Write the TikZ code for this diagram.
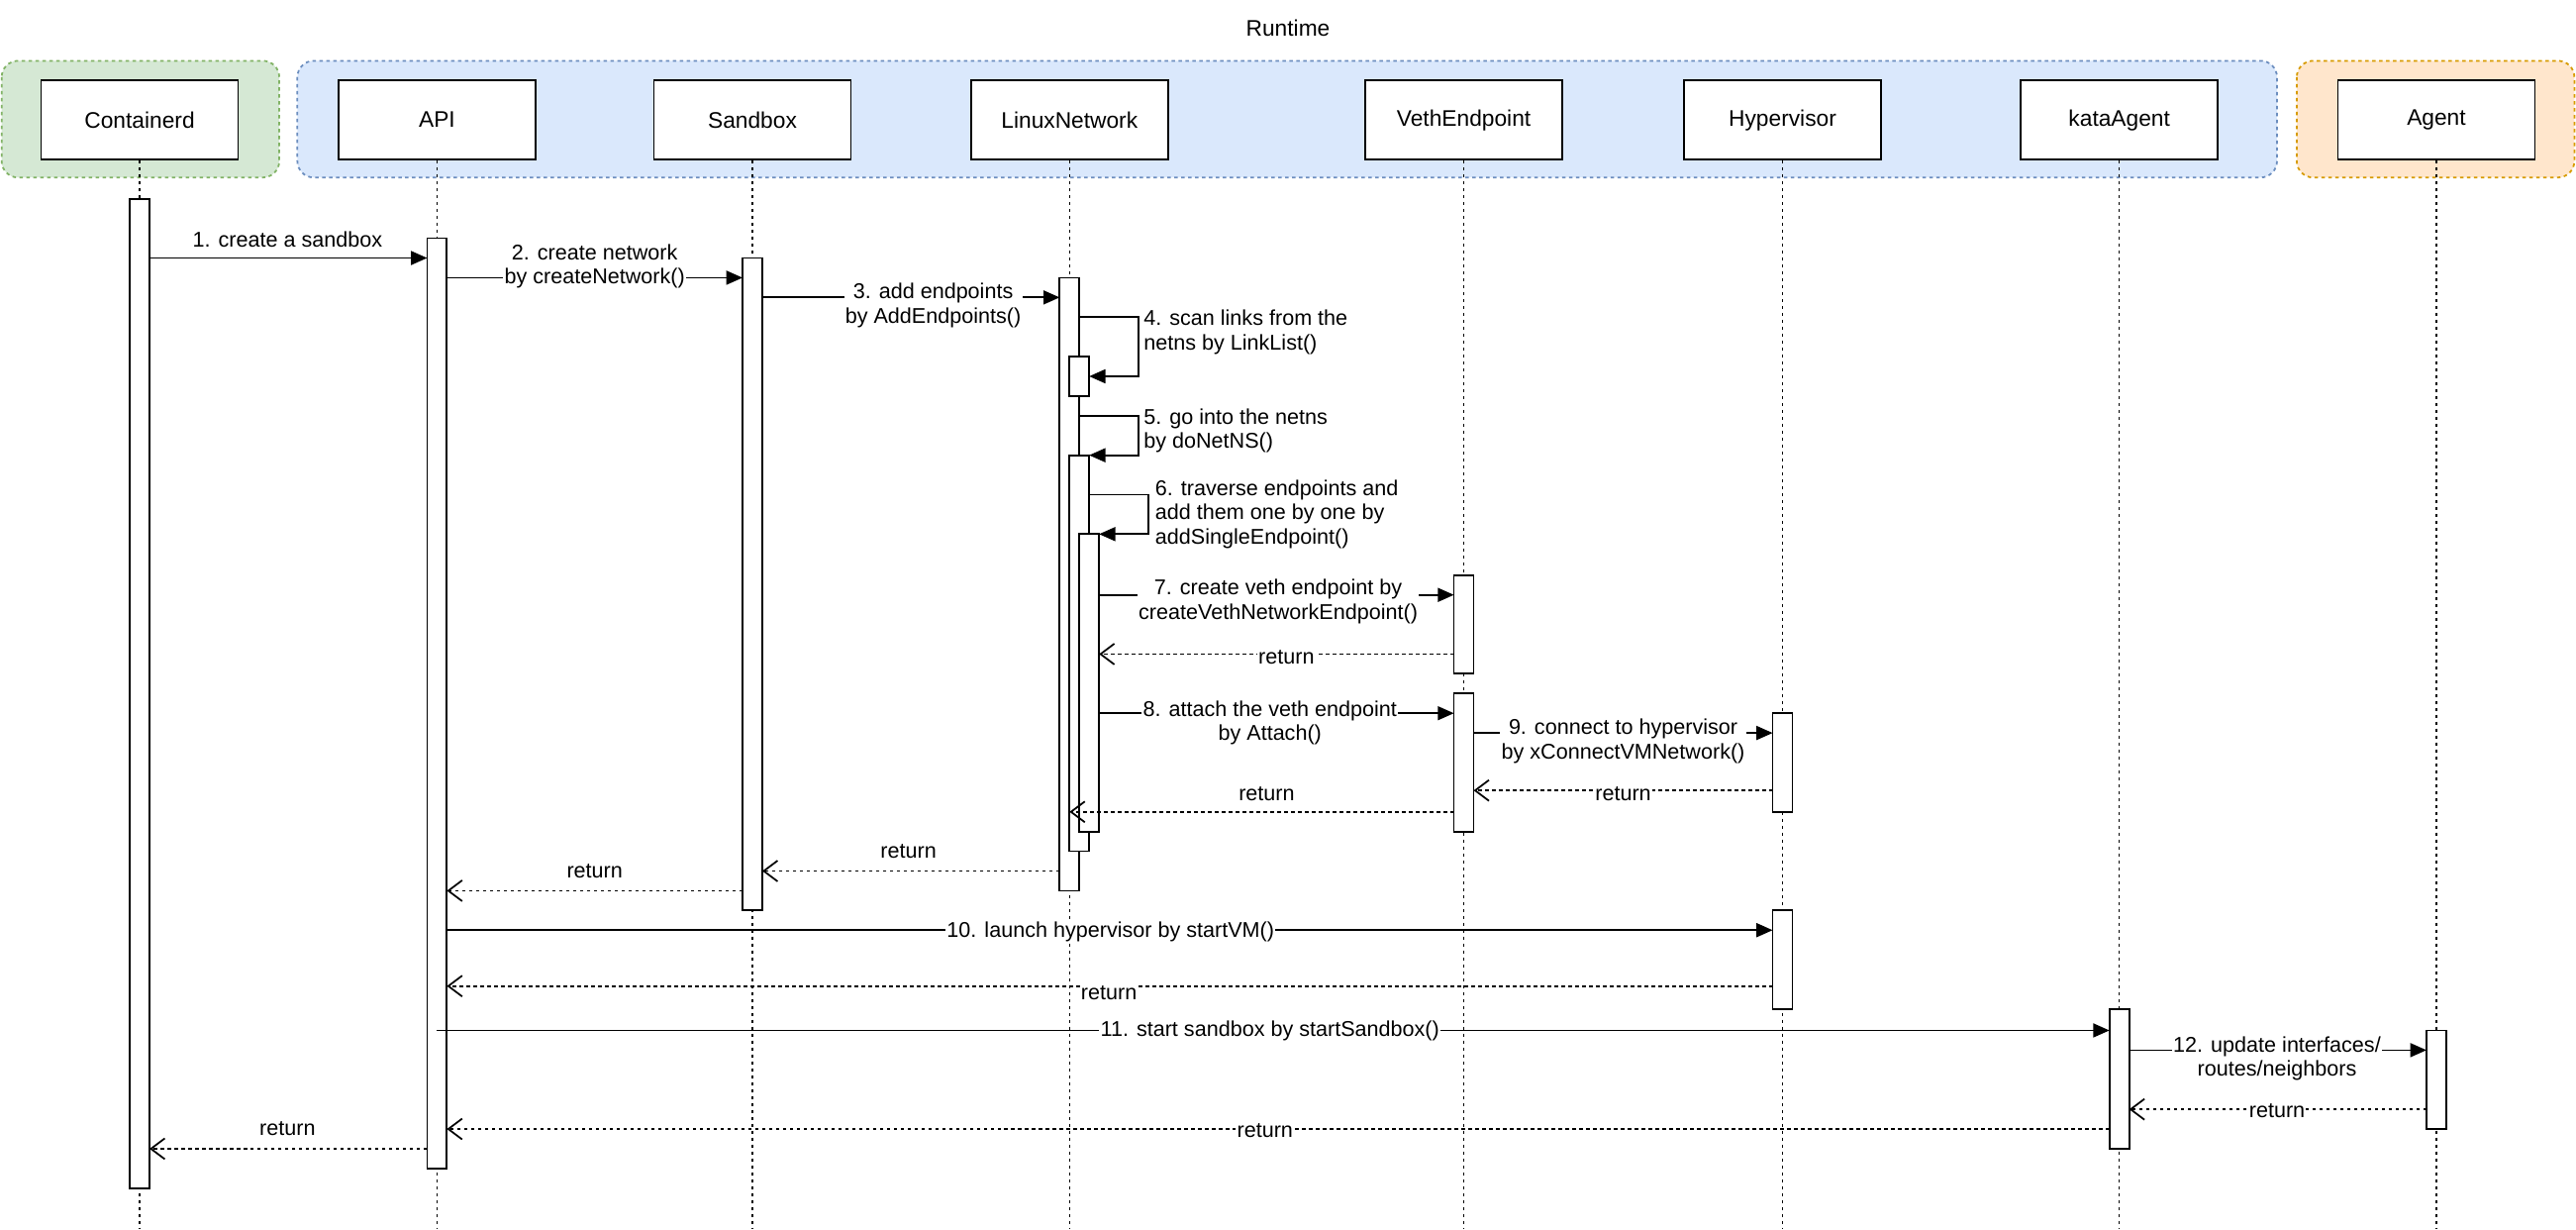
\documentclass[tikz,border=0pt]{standalone}
\usepackage{fontspec}
\setmainfont{Liberation Sans}
\usetikzlibrary{arrows.meta}
\definecolor{gfill}{HTML}{D5E8D4}\definecolor{gline}{HTML}{82B366}
\definecolor{bfill}{HTML}{DAE8FC}\definecolor{bline}{HTML}{6C8EBF}
\definecolor{ofill}{HTML}{FFE6CC}\definecolor{oline}{HTML}{D79B00}
\begin{document}
\begin{tikzpicture}[x=0.05cm,y=-0.05cm,line width=1.5pt,
  grp/.style={draw,dashed,rounded corners=0.5cm},
  hdr/.style={draw,fill=white,minimum width=6cm,minimum height=2.4cm,font=\fontsize{19.5}{22}\selectfont},
  act/.style={draw,fill=white},
  life/.style={dashed,line width=1.3pt},
  msg/.style={-{Triangle[length=14pt,width=12pt]}},
  ret/.style={dashed,-{Straight Barb[length=12pt,width=18pt]}},
  lbl/.style={fill=white,inner sep=1pt,align=center,font=\fontsize{18.5}{21}\selectfont},
  lbll/.style={fill=white,inner sep=1pt,align=left,anchor=west,font=\fontsize{18.5}{21}\selectfont}]
\useasboundingbox (0,0) rectangle (1568,748);
\node[font=\fontsize{19.5}{22}\selectfont] (rt) at (784,17) {Runtime};
\draw[grp,fill=gfill,draw=gline] (1,37) rectangle (170,108);
\draw[grp,fill=bfill,draw=bline] (181,37) rectangle (1386,108);
\draw[grp,fill=ofill,draw=oline] (1398,37) rectangle (1567,108);
\foreach \n/\x/\t in {c/85/Containerd,a/266/API,s/458/Sandbox,l/651/LinuxNetwork,v/891/VethEndpoint,h/1085/Hypervisor,k/1290/kataAgent,g/1483/Agent}{
  \node[hdr] (\n) at (\x,73) {\t};
  \draw[life] (\n.south) -- (\x,748);
}
% activations
\foreach \x/\a/\b in {79/121/723,260/145/711,452/157/554,645/169/542,651/217/241,651/277/518,657/325/506,885/350/410,885/422/506,1079/434/494,1079/554/614,1284/614/699,1477/627/687}
  \draw[act] (\x,\a) rectangle ++(12,\b-\a);
% messages
\draw[msg] (91,157) -- (260,157); \node[lbl] (m1) at (175,146) {1. create a sandbox};
\draw[msg] (272,169) -- (452,169); \node[lbl] (m2) at (362,162) {2. create network\\by createNetwork()};
\draw[msg] (464,181) -- (645,181); \node[lbl] (m3) at (568,186) {3. add endpoints\\by AddEndpoints()};
\draw[msg] (657,193) -- (693,193) -- (693,229) -- (663,229); \node[lbll] (m4) at (695,202) {4. scan links from the\\netns by LinkList()};
\draw[msg] (657,253) -- (693,253) -- (693,277) -- (663,277); \node[lbll] (m5) at (695,262) {5. go into the netns\\by doNetNS()};
\draw[msg] (663,301) -- (699,301) -- (699,325) -- (669,325); \node[lbll] (m6) at (702,313) {6. traverse endpoints and\\add them one by one by\\addSingleEndpoint()};
\draw[msg] (669,362) -- (885,362); \node[lbl] (m7) at (778,366) {7. create veth endpoint by\\createVethNetworkEndpoint()};
\draw[ret] (885,398) -- (669,398); \node[lbl] (r7) at (783,400) {return};
\draw[msg] (669,434) -- (885,434); \node[lbl] (m8) at (773,440) {8. attach the veth endpoint\\by Attach()};
\draw[msg] (897,446) -- (1079,446); \node[lbl] (m9) at (988,451) {9. connect to hypervisor\\by xConnectVMNetwork()};
\draw[ret] (1079,481) -- (897,481); \node[lbl] (r9) at (988,483) {return};
\draw[ret] (885,494) -- (651,494); \node[lbl] (r8) at (771,483) {return};
\draw[ret] (645,530) -- (464,530); \node[lbl] (r3) at (553,518) {return};
\draw[ret] (452,542) -- (272,542); \node[lbl] (r2) at (362,530) {return};
\draw[msg] (272,566) -- (1079,566); \node[lbl] (m10) at (676,567) {10. launch hypervisor by startVM()};
\draw[ret] (1079,600) -- (272,600); \node[lbl] (r10) at (675,604) {return};
\draw[msg] (266,627) -- (1284,627); \node[lbl] (m11) at (773,627) {11. start sandbox by startSandbox()};
\draw[msg] (1296,639) -- (1477,639); \node[lbl] (m12) at (1386,644) {12. update interfaces/\\routes/neighbors};
\draw[ret] (1477,675) -- (1296,675); \node[lbl] (r12) at (1386,676) {return};
\draw[ret] (1284,687) -- (272,687); \node[lbl] (r11) at (770,688) {return};
\draw[ret] (260,699) -- (91,699); \node[lbl] (r1) at (175,687) {return};
\end{tikzpicture}
\end{document}
